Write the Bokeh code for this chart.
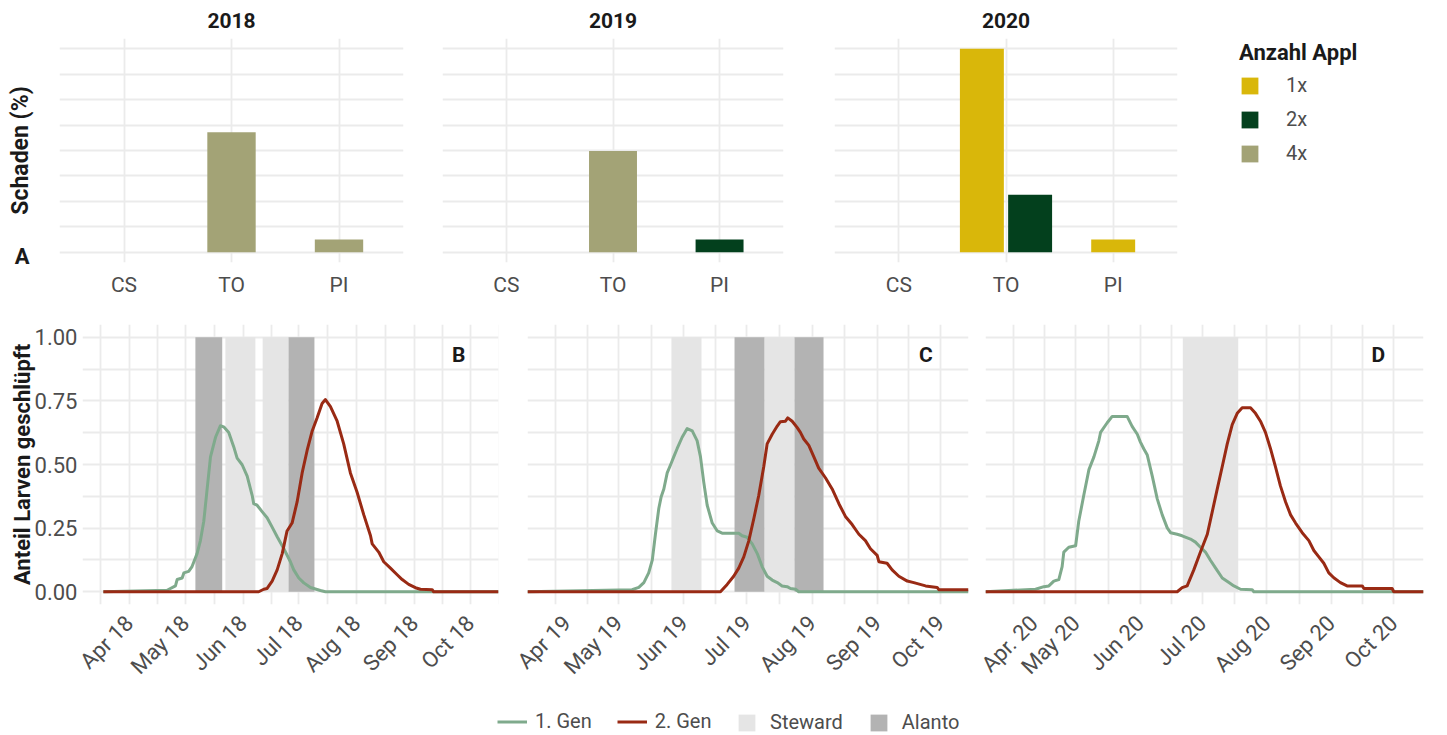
import datetime as dt
from math import pi, nan
from bokeh.plotting import figure
from bokeh.models import (Range1d, FixedTicker, NumeralTickFormatter, Legend, LegendItem, Label)
from bokeh.layouts import row, column
from bokeh.embed import file_html
from bokeh.resources import INLINE

FONT = "Roboto"
GRID_COLOR = "#EBEBEB"
TITLE_COLOR = "#1A1A1A"
TICK_COLOR = "#4D4D4D"
GEN1_COLOR = "#7FAA8C"
GEN2_COLOR = "#992A14"
STEWARD_COLOR = "#E5E5E5"
ALANTO_COLOR = "#B3B3B3"

# ---------------- top row: damage (%) ----------------
sites = ["CS", "TO", "PI"]
appl_levels = ["1x", "2x", "4x"]
appl_colors = ["#D9B70A", "#03401D", "#A3A376"]
years = [2018, 2019, 2020]

dmg_year = [2018, 2018, 2019, 2019, 2020, 2020, 2020]
dmg_site = ["TO", "PI", "TO", "PI", "TO", "TO", "PI"]
dmg_appl = ["4x", "4x", "4x", "2x", "1x", "2x", "1x"]
dmg_pct = [23.6, 2.5, 19.9, 2.5, 40.0, 11.3, 2.5]
dmg_grid_major = [0, 10, 20, 30, 40]
dmg_grid_minor = [5, 15, 25, 35]

# ---------------- bottom row: hatching curves (day of year, share) ----------------
g1_2018_day = [76, 110.2, 114.7, 115.6, 118.3, 119.2, 121.8, 123.6, 126.3, 128.1, 129.9, 131.7, 133.5,
               136.2, 138.8, 140.6, 143.3, 146.0, 147.8, 150.5, 153.2, 155.9, 156.7, 158.5, 161.2, 163.9,
               166.6, 169.3, 172.8, 176.4, 178.2, 180.9, 183.6, 187.2, 189.8, 192.5, 195.2, 288.1]
g1_2018_val = [0, 0.006, 0.023, 0.048, 0.054, 0.074, 0.080, 0.099, 0.150, 0.201, 0.277, 0.403, 0.530,
               0.607, 0.652, 0.648, 0.626, 0.569, 0.525, 0.499, 0.454, 0.378, 0.346, 0.340, 0.315, 0.291,
               0.254, 0.216, 0.170, 0.118, 0.086, 0.054, 0.035, 0.017, 0.011, 0.005, 0.0, 0.0]
g2_2018_day = [76, 159.4, 162.1, 163.9, 166.6, 169.3, 172.0, 174.6, 177.3, 180.0, 182.7, 185.4, 188.1,
               190.7, 193.4, 195.2, 197.9, 201.5, 205.0, 208.6, 212.2, 215.8, 219.4, 220.3, 223.8, 226.5,
               230.1, 233.7, 236.4, 239.9, 243.5, 246.2, 252.5, 253.3, 288.1]
g2_2018_val = [0, 0, 0.010, 0.013, 0.042, 0.086, 0.150, 0.239, 0.270, 0.353, 0.467, 0.556, 0.632,
               0.683, 0.740, 0.755, 0.727, 0.670, 0.581, 0.467, 0.391, 0.302, 0.220, 0.188, 0.156, 0.118,
               0.093, 0.067, 0.048, 0.029, 0.016, 0.010, 0.008, 0.0, 0.0]

g1_2019_day = [76.7, 126.4, 129.6, 132.0, 134.3, 136.0, 137.5, 139.1, 140.2, 141.5, 143.1, 145.0, 146.2,
               147.8, 150.2, 152.6, 155.0, 157.3, 158.9, 160.5, 162.1, 164.5, 166.9, 169.2, 177.1, 178.7,
               181.1, 183.5, 185.9, 188.2, 190.6, 193.0, 195.4, 197.7, 200.1, 201.7, 204.1, 205.6, 286.3]
g1_2019_val = [0, 0.008, 0.017, 0.036, 0.074, 0.124, 0.226, 0.327, 0.372, 0.404, 0.467, 0.505, 0.530,
               0.562, 0.607, 0.641, 0.632, 0.594, 0.531, 0.429, 0.340, 0.270, 0.239, 0.230, 0.230, 0.220,
               0.214, 0.188, 0.150, 0.099, 0.061, 0.046, 0.036, 0.023, 0.020, 0.013, 0.010, 0.0, 0.0]
g2_2019_day = [76.7, 168.4, 171.6, 174.7, 177.1, 179.5, 181.9, 184.3, 186.6, 189.0, 190.6, 193.0, 195.4,
               196.9, 199.3, 200.4, 202.5, 204.9, 206.4, 208.0, 210.4, 212.8, 215.1, 218.3, 221.5, 224.7,
               227.8, 231.0, 234.2, 237.3, 239.7, 242.9, 243.7, 247.6, 250.0, 253.2, 257.2, 260.3, 265.9,
               271.4, 272.2, 286.3]
g2_2019_val = [0, 0, 0.029, 0.061, 0.093, 0.137, 0.201, 0.289, 0.378, 0.492, 0.581, 0.619, 0.651,
               0.668, 0.670, 0.683, 0.670, 0.645, 0.626, 0.600, 0.575, 0.530, 0.486, 0.448, 0.404, 0.346,
               0.296, 0.264, 0.226, 0.201, 0.169, 0.143, 0.118, 0.112, 0.086, 0.061, 0.042, 0.036, 0.023,
               0.017, 0.008, 0.008]

g1_2020_day = [77.5, 101.6, 105.6, 108.0, 110.4, 112.8, 114.4, 115.2, 117.6, 120.9, 122.4, 124.8, 127.3,
               129.7, 132.1, 132.9, 136.1, 138.5, 145.7, 148.1, 150.6, 152.1, 153.7, 155.4, 157.8, 160.2,
               162.6, 165.0, 166.6, 169.8, 172.2, 176.2, 178.6, 181.0, 183.4, 185.8, 188.3, 191.5, 194.7,
               197.1, 200.3, 205.9, 206.7, 288.4]
g1_2020_val = [0, 0.010, 0.020, 0.023, 0.042, 0.048, 0.099, 0.156, 0.175, 0.181, 0.277, 0.378, 0.480,
               0.530, 0.594, 0.626, 0.664, 0.689, 0.689, 0.650, 0.619, 0.588, 0.562, 0.537, 0.454, 0.365,
               0.302, 0.251, 0.232, 0.226, 0.220, 0.207, 0.195, 0.175, 0.156, 0.124, 0.093, 0.054, 0.036,
               0.023, 0.010, 0.008, 0.0, 0.0]
g2_2020_day = [77.5, 169.8, 172.2, 174.6, 177.8, 181.0, 184.3, 186.7, 189.1, 191.5, 193.9, 196.3, 198.7,
               201.1, 205.1, 207.5, 209.9, 212.3, 214.7, 217.1, 219.5, 222.0, 224.4, 226.8, 230.0, 233.2,
               235.6, 238.0, 240.4, 242.8, 245.2, 248.4, 251.6, 258.9, 259.7, 273.3, 274.1, 288.4]
g2_2020_val = [0, 0, 0.016, 0.023, 0.086, 0.156, 0.226, 0.315, 0.404, 0.492, 0.581, 0.657, 0.701,
               0.723, 0.723, 0.701, 0.670, 0.626, 0.563, 0.492, 0.416, 0.353, 0.302, 0.270, 0.232, 0.201,
               0.162, 0.137, 0.112, 0.074, 0.055, 0.036, 0.023, 0.023, 0.013, 0.013, 0.0, 0.0]

# treatment windows (day of year)
steward_2018_start = [141.5, 161.5]
steward_2018_end = [157.6, 175.4]
alanto_2018_start = [125.4, 175.4]
alanto_2018_end = [139.8, 189.3]
steward_2019_start = [145.1, 189.3]
steward_2019_end = [159.4, 203.6]
alanto_2019_start = [175.1, 203.6]
alanto_2019_end = [189.3, 217.4]
steward_2020_start = [172.5]
steward_2020_end = [199.2]
alanto_2020_start = []
alanto_2020_end = []

month_labels_2018 = ["Apr 18", "May 18", "Jun 18", "Jul 18", "Aug 18", "Sep 18", "Oct 18"]
month_labels_2019 = ["Apr 19", "May 19", "Jun 19", "Jul 19", "Aug 19", "Sep 19", "Oct 19"]
month_labels_2020 = ["Apr. 20", "May 20", "Jun 20", "Jul 20", "Aug 20", "Sep 20", "Oct 20"]
x_limits_2018 = (64.8, 288.1)
x_limits_2019 = (76.7, 286.3)
x_limits_2020 = (77.5, 288.4)
panel_tags = ["B", "C", "D"]


def doy(y, m, d=1):
    return (dt.date(y, m, d) - dt.date(y, 1, 1)).days


def base_style(p):
    p.outline_line_color = None
    p.background_fill_color = "white"
    p.border_fill_color = "white"
    for g in (p.xgrid, p.ygrid):
        g.grid_line_color = GRID_COLOR
        g.grid_line_width = 1.8
        g.minor_grid_line_color = GRID_COLOR
        g.minor_grid_line_width = 1.8


def style_axis(ax, tick_size="21px", label_size="23px"):
    ax.axis_line_color = None
    ax.major_tick_line_color = None
    ax.minor_tick_line_color = None
    ax.major_tick_out = 0
    ax.major_tick_in = 0
    ax.minor_tick_out = 0
    ax.minor_tick_in = 0
    ax.major_label_text_font = FONT
    ax.major_label_text_font_size = tick_size
    ax.major_label_text_color = TICK_COLOR
    ax.axis_label_text_font = FONT
    ax.axis_label_text_font_size = label_size
    ax.axis_label_text_font_style = "bold"
    ax.axis_label_text_color = TITLE_COLOR


# ---------------- top bar figures ----------------
top_layout = {2018: (423, 59, 20), 2019: (387, 19, 27), 2020: (375, 24, 8)}
tag_a_level = -0.9
top_figs = []
for year in years:
    width, lb, rb = top_layout[year]
    show_y = year == years[0]
    p = figure(width=width, height=308, x_range=Range1d(0.4, 3.6), y_range=Range1d(-2, 42),
               output_backend="svg", toolbar_location=None,
               min_border_left=lb, min_border_right=rb, min_border_top=37, min_border_bottom=46,
               y_axis_location="left" if show_y else None)
    base_style(p)
    p.title.text = str(year)
    p.title.align = "center"
    p.title.text_font = FONT
    p.title.text_font_size = "21px"
    p.title.text_font_style = "bold"
    p.title.text_color = TITLE_COLOR
    p.title.standoff = 21
    site_ticks = [i + 1 for i in range(len(sites))]
    p.xgrid.ticker = FixedTicker(ticks=site_ticks, minor_ticks=[])
    p.ygrid.ticker = FixedTicker(ticks=dmg_grid_major, minor_ticks=dmg_grid_minor)
    p.xaxis.ticker = FixedTicker(ticks=site_ticks, minor_ticks=[])
    p.xaxis.major_label_overrides = {t: s for t, s in zip(site_ticks, sites)}
    style_axis(p.xaxis[0])
    p.xaxis.major_label_standoff = 10
    if show_y:
        ax = p.yaxis[0]
        style_axis(ax)
        # panel tag "A" is shown as the single label of the y axis
        ax.ticker = FixedTicker(ticks=[tag_a_level], minor_ticks=[])
        ax.major_label_overrides = {tag_a_level: "A"}
        ax.major_label_text_font_size = "22px"
        ax.major_label_text_font_style = "bold"
        ax.major_label_text_color = TITLE_COLOR
        ax.major_label_standoff = 30
        ax.axis_label = "Schaden (%)"
        ax.axis_label_standoff = -22

    rows_y = [i for i in range(len(dmg_year)) if dmg_year[i] == year]
    nmax = max([sum(1 for j in rows_y if dmg_site[j] == s) for s in sites] + [1])
    bar_w = 0.45 if nmax == 1 else 0.41
    for lev, col in zip(appl_levels, appl_colors):
        xs, tops = [], []
        for i in rows_y:
            if dmg_appl[i] != lev:
                continue
            grp = sorted([j for j in rows_y if dmg_site[j] == dmg_site[i]],
                         key=lambda j: appl_levels.index(dmg_appl[j]))
            k, n = grp.index(i), len(grp)
            xs.append(sites.index(dmg_site[i]) + 1 + (k - (n - 1) / 2) * 0.45)
            tops.append(dmg_pct[i])
        p.vbar(x=xs, top=tops, bottom=0, width=bar_w, fill_color=col, line_color=None)
    top_figs.append(p)

# legend figure (top right)
pl = figure(width=262, height=308, x_range=Range1d(0, 1), y_range=Range1d(0, 1),
            output_backend="svg", toolbar_location=None, x_axis_location=None, y_axis_location=None,
            min_border=0)
pl.outline_line_color = None
pl.grid.visible = False
leg_items = []
for lev, col in zip(appl_levels, appl_colors):
    r = pl.vbar(x=[nan], top=[nan], bottom=0, width=0.5, fill_color=col, line_color=None)
    leg_items.append(LegendItem(label=lev, renderers=[r]))
leg_top = Legend(items=leg_items, title="Anzahl Appl", location=(54, 97), orientation="vertical",
                 glyph_width=21, glyph_height=21, label_standoff=26, spacing=10, padding=0, margin=0,
                 border_line_color=None, background_fill_alpha=0, title_standoff=8,
                 label_text_font=FONT, label_text_font_size="20px", label_text_color=TICK_COLOR,
                 title_text_font=FONT, title_text_font_size="22px", title_text_font_style="bold",
                 title_text_color=TITLE_COLOR)
pl.add_layout(leg_top)

# ---------------- bottom curve figures ----------------
curves = {
    2018: (g1_2018_day, g1_2018_val, g2_2018_day, g2_2018_val,
           steward_2018_start, steward_2018_end, alanto_2018_start, alanto_2018_end,
           month_labels_2018, x_limits_2018),
    2019: (g1_2019_day, g1_2019_val, g2_2019_day, g2_2019_val,
           steward_2019_start, steward_2019_end, alanto_2019_start, alanto_2019_end,
           month_labels_2019, x_limits_2019),
    2020: (g1_2020_day, g1_2020_val, g2_2020_day, g2_2020_val,
           steward_2020_start, steward_2020_end, alanto_2020_start, alanto_2020_end,
           month_labels_2020, x_limits_2020),
}
bottom_layout = {2018: (512, 82, 14), 2019: (464, 15, 8), 2020: (471, 9, 24)}
tag_pos = {2018: 266.7, 2019: 266.0, 2020: 266.7}
y_major = [0, 0.25, 0.5, 0.75, 1.0]
y_minor = [0.125, 0.375, 0.625, 0.875]

bottom_figs = []
for year, tag in zip(years, panel_tags):
    g1d, g1v, g2d, g2v, ss, se, as_, ae, mlabels, xlim = curves[year]
    width, lb, rb = bottom_layout[year]
    show_y = year == years[0]
    p = figure(width=width, height=382, x_range=Range1d(*xlim), y_range=Range1d(-0.05, 1.05),
               output_backend="svg", toolbar_location=None,
               min_border_left=lb, min_border_right=rb, min_border_top=16, min_border_bottom=78,
               y_axis_location="left" if show_y else None)
    base_style(p)
    mticks = [doy(year, m) for m in range(4, 11)]
    mstarts = [doy(year, m) for m in range(3, 12)]
    mmids = [(a + b) / 2 for a, b in zip(mstarts[:-1], mstarts[1:])]
    p.xgrid.ticker = FixedTicker(ticks=mticks, minor_ticks=mmids)
    p.ygrid.ticker = FixedTicker(ticks=y_major, minor_ticks=y_minor)
    ax = p.xaxis[0]
    style_axis(ax, tick_size="22px")
    ax.ticker = FixedTicker(ticks=mticks, minor_ticks=[])
    ax.major_label_overrides = {t: s for t, s in zip(mticks, mlabels)}
    ax.major_label_orientation = pi / 4
    ax.major_label_standoff = 15
    if show_y:
        ay = p.yaxis[0]
        style_axis(ay, tick_size="22px", label_size="22px")
        ay.ticker = FixedTicker(ticks=y_major, minor_ticks=[])
        ay.formatter = NumeralTickFormatter(format="0.00")
        ay.major_label_standoff = 5
        ay.axis_label = "Anteil Larven geschlüpft"
        ay.axis_label_standoff = -3
    if ss:
        p.quad(left=ss, right=se, bottom=0, top=1, fill_color=STEWARD_COLOR, line_color=None)
    if as_:
        p.quad(left=as_, right=ae, bottom=0, top=1, fill_color=ALANTO_COLOR, line_color=None)
    p.line(g1d, g1v, line_color=GEN1_COLOR, line_width=3, line_join="round")
    p.line(g2d, g2v, line_color=GEN2_COLOR, line_width=3, line_join="round")
    p.add_layout(Label(x=tag_pos[year], y=0.931, text=tag, text_align="center", text_baseline="middle",
                       text_font=FONT, text_font_size="21px", text_font_style="bold",
                       text_color=TITLE_COLOR))
    bottom_figs.append(p)

# ---------------- bottom legend ----------------
pb = figure(width=1447, height=45, x_range=Range1d(0, 1), y_range=Range1d(0, 1),
            output_backend="svg", toolbar_location=None, x_axis_location=None, y_axis_location=None,
            min_border=0)
pb.outline_line_color = None
pb.grid.visible = False
r1 = pb.line(x=[nan], y=[nan], line_color=GEN1_COLOR, line_width=3)
r2 = pb.line(x=[nan], y=[nan], line_color=GEN2_COLOR, line_width=3)
r3 = pb.quad(left=[nan], right=[nan], bottom=[nan], top=[nan], fill_color=STEWARD_COLOR, line_color=None)
r4 = pb.quad(left=[nan], right=[nan], bottom=[nan], top=[nan], fill_color=ALANTO_COLOR, line_color=None)
common = dict(orientation="horizontal", padding=0, margin=0, border_line_color=None,
              background_fill_alpha=0, label_text_font=FONT, label_text_font_size="20px",
              label_text_color=TICK_COLOR)
leg_lines = Legend(items=[LegendItem(label="1. Gen", renderers=[r1]),
                          LegendItem(label="2. Gen", renderers=[r2])],
                   location=(497, 2), glyph_width=30, glyph_height=23, label_standoff=8, spacing=25,
                   **common)
leg_boxes = Legend(items=[LegendItem(label="Steward", renderers=[r3]),
                          LegendItem(label="Alanto", renderers=[r4])],
                   location=(736, 1), glyph_width=21, glyph_height=21, label_standoff=13, spacing=25,
                   **common)
pb.add_layout(leg_lines)
pb.add_layout(leg_boxes)

layout = column(row(*top_figs, pl), row(*bottom_figs), pb)
open("out.html", "w").write(file_html(layout, INLINE))
